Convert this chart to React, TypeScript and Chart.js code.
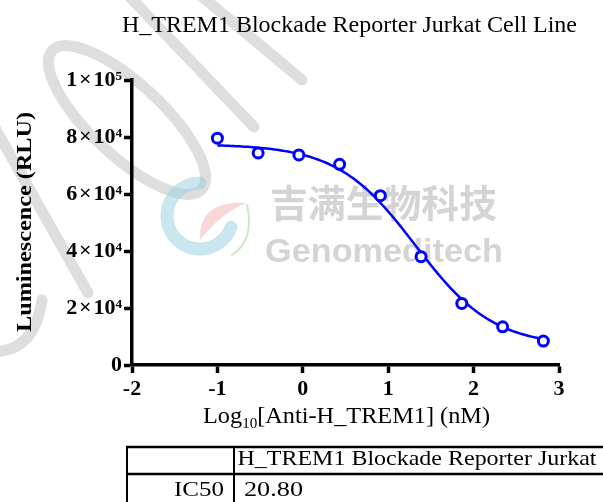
import React, { useEffect, useRef } from 'react';
import { Chart, registerables } from 'chart.js';

Chart.register(...registerables);

// ---- data ----
const TITLE = 'H_TREM1 Blockade Reporter Jurkat Cell Line';
const Y_TITLE = 'Luminescence (RLU)';
const X_TITLE_MAIN = 'Log';
const X_TITLE_SUB = '10';
const X_TITLE_REST = '[Anti-H_TREM1] (nM)';
const X_MIN = -2;
const X_MAX = 3;
const Y_TICKS = [0, 20000, 40000, 60000, 80000, 100000];
const Y_TICK_LABELS = ['0', '2\u200a×\u200a10⁴', '4\u200a×\u200a10⁴', '6\u200a×\u200a10⁴', '8\u200a×\u200a10⁴', '1\u200a×\u200a10⁵'];
const LOG_CONC = [-1, -0.523, -0.046, 0.431, 0.908, 1.385, 1.862, 2.34, 2.817];
const RLU = [79600, 74400, 73700, 70400, 59400, 38000, 21600, 13400, 8400];
// 4PL fit parameters
const FIT_TOP = 77500;
const FIT_BOTTOM = 6500;
const FIT_IC50 = 20.8;
const FIT_HILL = 0.95;
const TABLE_HEADER = 'H_TREM1 Blockade Reporter Jurkat';
const TABLE_ROW_LABEL = 'IC50';
const TABLE_ROW_VALUE = '20.80';
const WATERMARK_CN = '吉满生物科技';
const WATERMARK_EN = 'Genomeditech';

const SERIF = '"Liberation Serif", "Times New Roman", serif';
const SANS = '"Liberation Sans", Arial, sans-serif';
const BLUE = '#0000ff';

function fitCurve(x: number): number {
  const logIC50 = Math.log10(FIT_IC50);
  return FIT_BOTTOM + (FIT_TOP - FIT_BOTTOM) / (1 + Math.pow(10, (x - logIC50) * FIT_HILL));
}

function buildCurve() {
  const pts: { x: number; y: number }[] = [];
  const a = LOG_CONC[0];
  const b = LOG_CONC[LOG_CONC.length - 1];
  const n = 120;
  for (let i = 0; i <= n; i++) {
    const x = a + ((b - a) * i) / n;
    pts.push({ x, y: fitCurve(x) });
  }
  return pts;
}

function fitText(
  ctx: CanvasRenderingContext2D,
  text: string,
  x: number,
  y: number,
  width: number,
  font: string,
  color = '#000'
) {
  ctx.save();
  ctx.font = font;
  ctx.fillStyle = color;
  ctx.textAlign = 'left';
  ctx.textBaseline = 'alphabetic';
  const w = ctx.measureText(text).width;
  ctx.translate(x, y);
  ctx.scale(width / w, 1);
  ctx.fillText(text, 0, 0);
  ctx.restore();
}

const backgroundPlugin = {
  id: 'bgWatermark',
  beforeDraw(chart: any) {
    const ctx: CanvasRenderingContext2D = chart.ctx;
    ctx.save();
    ctx.fillStyle = '#fff';
    ctx.fillRect(0, 0, chart.width, chart.height);
    // gray swooshes
    ctx.strokeStyle = '#dedede';
    ctx.lineWidth = 11;
    ctx.lineCap = 'round';
    ctx.beginPath();
    ctx.moveTo(128, -5);
    ctx.lineTo(254, 127);
    ctx.stroke();
    ctx.beginPath();
    ctx.moveTo(200, -5);
    ctx.lineTo(302, 80);
    ctx.stroke();
    ctx.beginPath();
    ctx.ellipse(127, 120, 102, 36, (43 * Math.PI) / 180, 0, Math.PI * 2);
    ctx.stroke();
    ctx.beginPath();
    ctx.moveTo(-5, 128);
    ctx.lineTo(88, 293);
    ctx.stroke();
    ctx.beginPath();
    ctx.moveTo(-5, 352);
    ctx.quadraticCurveTo(35, 350, 42, 300);
    ctx.stroke();
    // logo
    ctx.lineCap = 'round';
    ctx.strokeStyle = 'rgba(150,205,222,0.5)';
    ctx.lineWidth = 13;
    ctx.beginPath();
    ctx.arc(200, 216, 33, -Math.PI / 2, Math.PI / 9, true);
    ctx.stroke();
    ctx.fillStyle = 'rgba(240,140,140,0.35)';
    ctx.beginPath();
    ctx.moveTo(200, 240);
    ctx.quadraticCurveTo(198, 200, 247, 203);
    ctx.quadraticCurveTo(222, 212, 200, 240);
    ctx.fill();
    ctx.strokeStyle = 'rgba(170,215,160,0.6)';
    ctx.lineWidth = 2;
    ctx.beginPath();
    ctx.moveTo(247, 205);
    ctx.quadraticCurveTo(255, 240, 232, 255);
    ctx.stroke();
    ctx.restore();
    // watermark text
    ctx.save();
    ctx.font = 'bold 38px "Noto Sans CJK SC", sans-serif';
    ctx.fillStyle = '#d4d4d4';
    ctx.textBaseline = 'middle';
    const wc = ctx.measureText(WATERMARK_CN).width;
    ctx.translate(270, 203);
    ctx.scale(227 / wc, 1);
    ctx.fillText(WATERMARK_CN, 0, 0);
    ctx.restore();
    fitText(ctx, WATERMARK_EN, 265, 262, 238, `bold 34px ${SANS}`, '#d4d4d4');
  },
};

const overlayPlugin = {
  id: 'overlayText',
  afterDraw(chart: any) {
    const ctx: CanvasRenderingContext2D = chart.ctx;
    // title
    fitText(ctx, TITLE, 122, 31.5, 455, `22.5px ${SERIF}`);
    // y title rotated
    ctx.save();
    ctx.font = `bold 22px ${SERIF}`;
    ctx.fillStyle = '#000';
    const wy = ctx.measureText(Y_TITLE).width;
    ctx.translate(30.5, 332);
    ctx.rotate(-Math.PI / 2);
    ctx.scale(220 / wy, 1);
    ctx.textBaseline = 'alphabetic';
    ctx.fillText(Y_TITLE, 0, 0);
    ctx.restore();
    // x title with subscript
    ctx.save();
    const fMain = `22.5px ${SERIF}`;
    const fSub = `14px ${SERIF}`;
    ctx.font = fMain;
    const w1 = ctx.measureText(X_TITLE_MAIN).width;
    const w3 = ctx.measureText(X_TITLE_REST).width;
    ctx.font = fSub;
    const w2 = ctx.measureText(X_TITLE_SUB).width;
    const s = 287 / (w1 + w2 + w3);
    ctx.translate(203, 423);
    ctx.scale(s, 1);
    ctx.fillStyle = '#000';
    ctx.textBaseline = 'alphabetic';
    ctx.font = fMain;
    ctx.fillText(X_TITLE_MAIN, 0, 0);
    ctx.font = fSub;
    ctx.fillText(X_TITLE_SUB, w1, 5);
    ctx.font = fMain;
    ctx.fillText(X_TITLE_REST, w1 + w2, 0);
    ctx.restore();
    // table
    ctx.save();
    ctx.strokeStyle = '#000';
    ctx.lineWidth = 2.5;
    ctx.beginPath();
    ctx.moveTo(126, 447);
    ctx.lineTo(610, 447);
    ctx.moveTo(126, 474);
    ctx.lineTo(610, 474);
    ctx.stroke();
    ctx.lineWidth = 2;
    ctx.beginPath();
    ctx.moveTo(127, 446);
    ctx.lineTo(127, 510);
    ctx.moveTo(234, 446);
    ctx.lineTo(234, 510);
    ctx.stroke();
    ctx.restore();
    fitText(ctx, TABLE_HEADER, 237.5, 465, 359, `22px ${SERIF}`);
    fitText(ctx, TABLE_ROW_LABEL, 174, 495.5, 50, `22px ${SERIF}`);
    fitText(ctx, TABLE_ROW_VALUE, 244, 495.5, 59, `22px ${SERIF}`);
  },
};

export default function App() {
  const canvasRef = useRef<HTMLCanvasElement | null>(null);

  useEffect(() => {
    const canvas = canvasRef.current;
    if (!canvas) return;
    const points = LOG_CONC.map((x, i) => ({ x, y: RLU[i] }));
    const chart = new Chart(canvas, {
      type: 'scatter',
      data: {
        datasets: [
          {
            label: 'fit',
            data: buildCurve(),
            showLine: true,
            borderColor: BLUE,
            borderWidth: 2.5,
            pointRadius: 0,
            pointHoverRadius: 0,
            fill: false,
            order: 2,
          } as any,
          {
            label: 'data',
            data: points,
            showLine: false,
            pointStyle: 'circle',
            pointRadius: 5,
            pointBorderWidth: 3,
            pointBorderColor: BLUE,
            pointBackgroundColor: '#fff',
            borderColor: BLUE,
            backgroundColor: '#fff',
            order: 1,
          } as any,
        ],
      },
      options: {
        responsive: false,
        animation: false,
        devicePixelRatio: 1,
        layout: { padding: { top: 80, right: 44, bottom: 0, left: 0 } },
        plugins: {
          legend: { display: false },
          title: { display: false },
          tooltip: { enabled: false },
        },
        scales: {
          x: {
            type: 'linear',
            min: X_MIN,
            max: X_MAX,
            afterFit: (scale: any) => {
              scale.height = 137;
            },
            ticks: {
              stepSize: 1,
              color: '#000',
              padding: 3,
              font: { family: SERIF, size: 22, weight: 'bold' },
              callback: (v: any) => String(v),
            },
            grid: {
              display: true,
              drawOnChartArea: false,
              drawTicks: true,
              tickLength: 8,
              tickWidth: 3.5,
              tickColor: '#000',
            },
            border: { display: true, color: '#000', width: 3.5 },
          },
          y: {
            type: 'linear',
            min: 0,
            max: 100000,
            afterFit: (scale: any) => {
              scale.width = 132;
            },
            afterBuildTicks: (scale: any) => {
              scale.ticks = Y_TICKS.map((v) => ({ value: v }));
            },
            ticks: {
              color: '#000',
              padding: 2,
              font: { family: SERIF, size: 22, weight: 'bold' },
              callback: (v: any) => {
                const i = Y_TICKS.indexOf(Number(v));
                return i >= 0 ? Y_TICK_LABELS[i] : '';
              },
            },
            grid: {
              display: true,
              drawOnChartArea: false,
              drawTicks: true,
              tickLength: 8,
              tickWidth: 3.5,
              tickColor: '#000',
            },
            border: { display: true, color: '#000', width: 3.5 },
          },
        },
      },
      plugins: [backgroundPlugin, overlayPlugin],
    });
    return () => chart.destroy();
  }, []);

  return (
    <div
      style={{
        position: 'fixed',
        left: 0,
        top: 0,
        width: 603,
        height: 502,
        overflow: 'hidden',
        background: '#fff',
      }}
    >
      <canvas ref={canvasRef} width={603} height={502} style={{ width: 603, height: 502, display: 'block' }} />
    </div>
  );
}
